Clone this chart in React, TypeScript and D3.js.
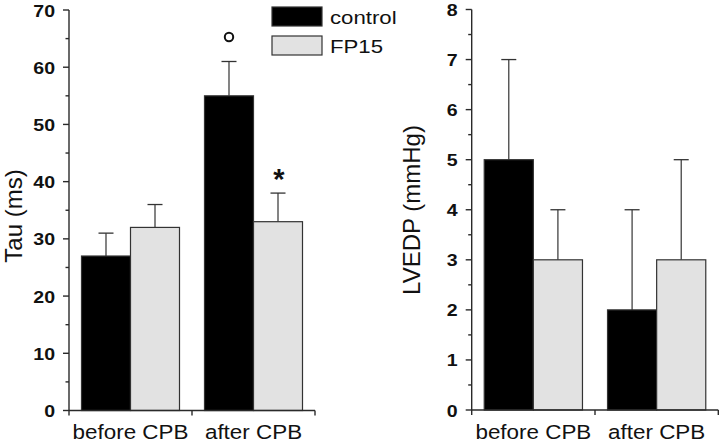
import React from "react";
import * as d3 from "d3";

const categories = ["before CPB", "after CPB"];
const seriesNames = ["control", "FP15"];

// Tau (ms)
const tauControl = [27, 55];
const tauFP15 = [32, 33];
const tauControlErr = [4, 6];
const tauFP15Err = [4, 5];

// LVEDP (mmHg)
const lvedpControl = [5, 2];
const lvedpFP15 = [3, 3];
const lvedpControlErr = [2, 2];
const lvedpFP15Err = [1, 2];

const tauTicks = [0, 10, 20, 30, 40, 50, 60, 70];
const lvedpTicks = [0, 1, 2, 3, 4, 5, 6, 7, 8];

const seriesColors = ["#000000", "#e2e2e2"];
const FONT = "'Liberation Sans', Arial, Helvetica, sans-serif";
const SX = 1.15;

type PanelProps = {
  xRange: [number, number];
  yRange: [number, number];
  ticks: number[];
  values: number[][];
  errs: number[][];
  title: string;
  titleX: number;
  titleY: number;
};

function Panel({ xRange, yRange, ticks, values, errs, title, titleX, titleY }: PanelProps) {
  const maxV = ticks[ticks.length - 1];
  const step = ticks[1] - ticks[0];
  const y = d3.scaleLinear().domain([0, maxV]).range(yRange);
  const x = d3.scaleBand<string>().domain(categories).range(xRange).padding(0);
  const inner = d3
    .scaleBand<string>()
    .domain(seriesNames)
    .range([0, x.bandwidth()])
    .paddingInner(0)
    .paddingOuter(0.255);
  const minorTicks = ticks.slice(0, -1).map((t) => t + step / 2);
  const axisColor = "#2a2a2a";
  return (
    <g>
      {categories.map((c, ci) =>
        seriesNames.map((s, si) => {
          const v = values[si][ci];
          const e = errs[si][ci];
          const bx = (x(c) as number) + (inner(s) as number);
          const bw = inner.bandwidth();
          const cx = bx + bw / 2;
          return (
            <g key={c + s}>
              <line x1={cx} x2={cx} y1={y(v)} y2={y(v + e)} stroke="#333" strokeWidth={1.2} />
              <line x1={cx - 7.5} x2={cx + 7.5} y1={y(v + e)} y2={y(v + e)} stroke="#333" strokeWidth={1.3} />
              <rect
                x={bx}
                y={y(v)}
                width={bw}
                height={y(0) - y(v)}
                fill={seriesColors[si]}
                stroke="#333"
                strokeWidth={1.2}
              />
            </g>
          );
        })
      )}
      <line x1={xRange[0]} x2={xRange[0]} y1={y(0)} y2={y(maxV)} stroke={axisColor} strokeWidth={1.4} />
      {ticks.map((t) => (
        <g key={"t" + t}>
          <line x1={xRange[0] - 6} x2={xRange[0]} y1={y(t)} y2={y(t)} stroke={axisColor} strokeWidth={1.4} />
          <text
            transform={`translate(${xRange[0] - 14},${y(t) + 6.5}) scale(${SX},1)`}
            textAnchor="end"
            fontFamily={FONT}
            fontWeight="bold"
            fontSize={17}
            fill="#111"
          >
            {t}
          </text>
        </g>
      ))}
      {minorTicks.map((t) => (
        <line key={"m" + t} x1={xRange[0] - 3.5} x2={xRange[0]} y1={y(t)} y2={y(t)} stroke={axisColor} strokeWidth={1.4} />
      ))}
      <line x1={xRange[0]} x2={xRange[1]} y1={y(0)} y2={y(0)} stroke={axisColor} strokeWidth={1.4} />
      {[xRange[0], ...categories.map((c) => (x(c) as number) + x.bandwidth())].map((px, i) => (
        <line key={"xt" + i} x1={px} x2={px} y1={y(0)} y2={y(0) + 5} stroke={axisColor} strokeWidth={1.4} />
      ))}
      {categories.map((c) => (
        <text
          key={"xl" + c}
          transform={`translate(${(x(c) as number) + x.bandwidth() / 2},439) scale(${SX},1)`}
          textAnchor="middle"
          fontFamily={FONT}
          fontSize={19.5}
          fill="#111"
        >
          {c}
        </text>
      ))}
      <text
        transform={`translate(${titleX},${titleY}) rotate(-90)`}
        textAnchor="middle"
        fontFamily={FONT}
        fontSize={24}
        fill="#111"
      >
        {title}
      </text>
    </g>
  );
}

export default function App() {
  return (
    <svg
      width={720}
      height={443}
      style={{ position: "fixed", left: 0, top: 0, background: "#fff" }}
    >
      <rect x={0} y={0} width={720} height={443} fill="#fff" />
      <Panel
        xRange={[69, 315]}
        yRange={[410.5, 10]}
        ticks={tauTicks}
        values={[tauControl, tauFP15]}
        errs={[tauControlErr, tauFP15Err]}
        title="Tau (ms)"
        titleX={21.5}
        titleY={216}
      />
      <Panel
        xRange={[471.7, 718.3]}
        yRange={[410, 9.5]}
        ticks={lvedpTicks}
        values={[lvedpControl, lvedpFP15]}
        errs={[lvedpControlErr, lvedpFP15Err]}
        title="LVEDP (mmHg)"
        titleX={420}
        titleY={210}
      />
      <circle cx={229} cy={37} r={4.2} fill="none" stroke="#111" strokeWidth={2} />
      <text x={279} y={189} textAnchor="middle" fontFamily={FONT} fontWeight="bold" fontSize={29} fill="#111">
        *
      </text>
      {seriesNames.map((s, i) => (
        <g key={"lg" + s}>
          <rect
            x={272}
            y={7 + i * 29}
            width={50}
            height={19}
            fill={seriesColors[i]}
            stroke="#333"
            strokeWidth={1.2}
          />
          <text
            transform={`translate(330,${23.5 + i * 29}) scale(${1.2},1)`}
            fontFamily={FONT}
            fontSize={18.5}
            fill="#111"
          >
            {s}
          </text>
        </g>
      ))}
    </svg>
  );
}
